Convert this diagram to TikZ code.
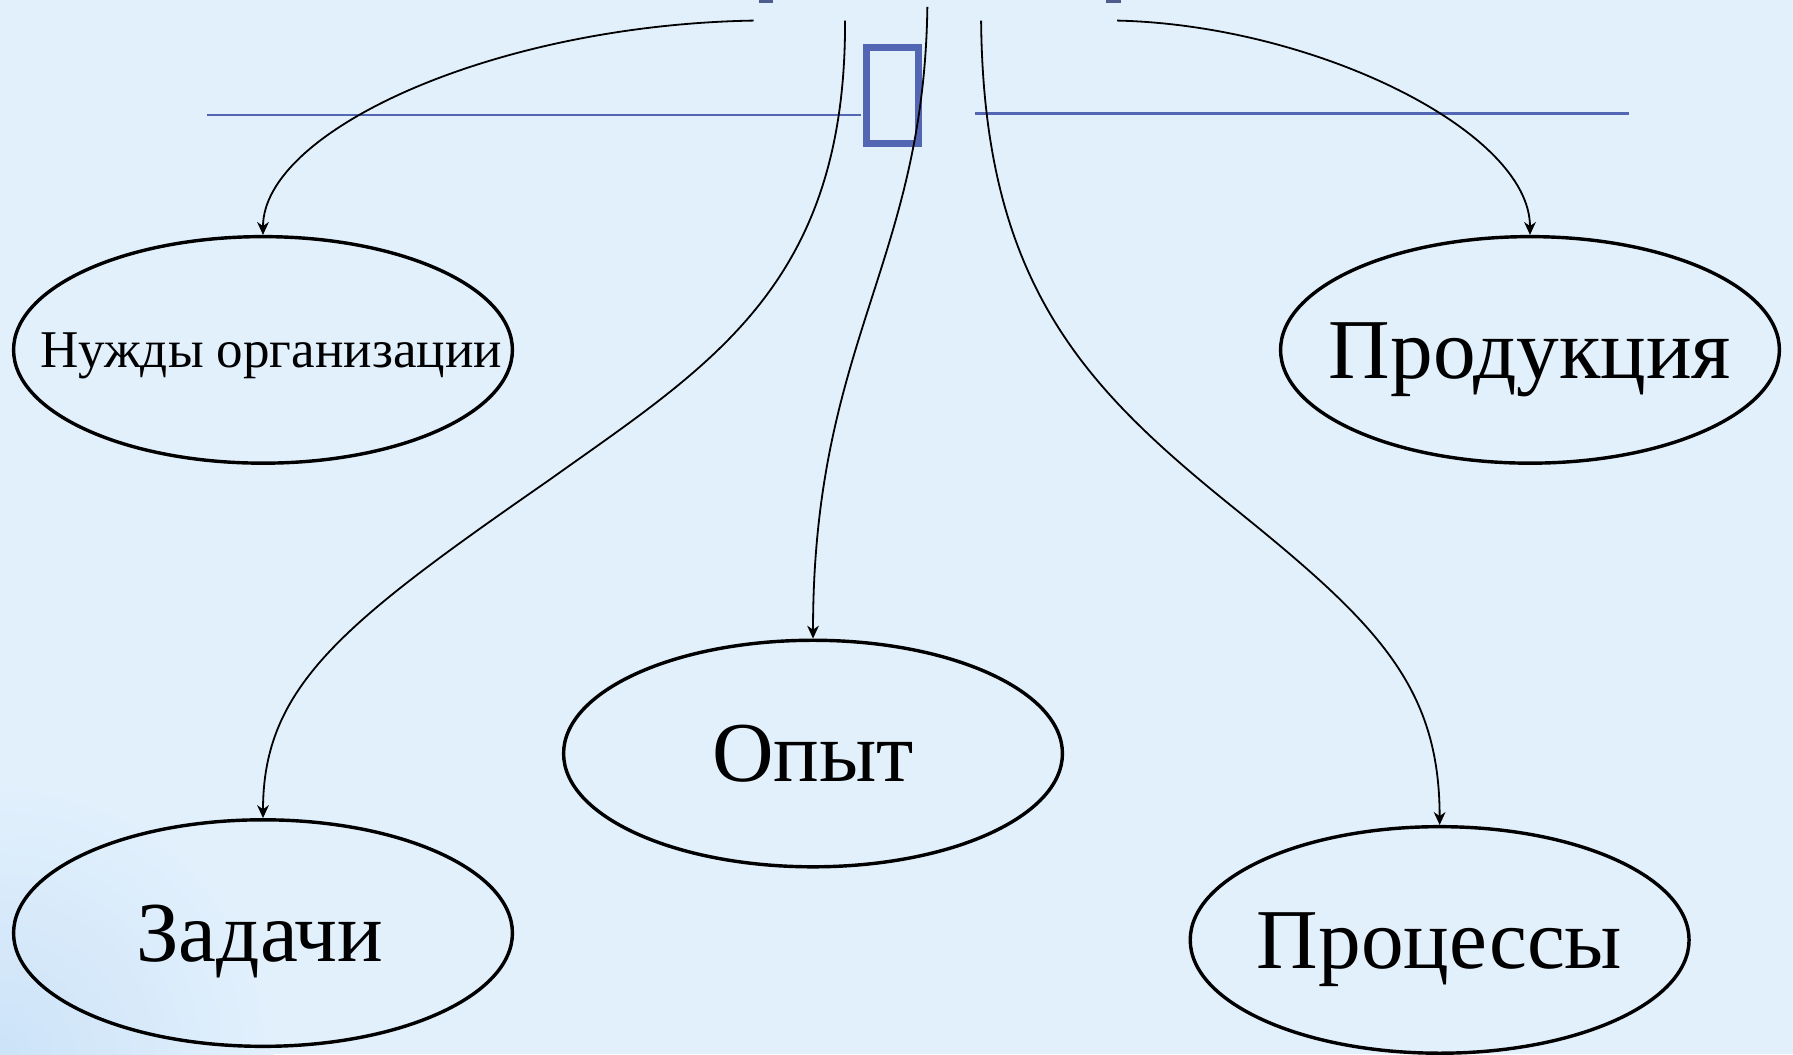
\documentclass[tikz,border=0pt]{standalone}
\usepackage{fontspec}
\setmainfont{Liberation Serif}
\usetikzlibrary{shapes.geometric,arrows.meta}
\definecolor{bgc}{RGB}{226,240,252}
\definecolor{glowc}{RGB}{204,227,248}
\definecolor{rulec}{RGB}{83,102,179}
\definecolor{markc}{RGB}{79,93,142}
\pgfdeclareradialshading{cornerglow}{\pgfpoint{0bp}{0bp}}{color(0bp)=(glowc); color(25bp)=(bgc); color(50bp)=(bgc)}
\begin{document}
\begin{tikzpicture}[x=0.01cm,y=-0.01cm,
  ell/.style={draw=black, line width=0.85pt, shape=ellipse, minimum width=4.36cm, minimum height=1.98cm, inner sep=0pt},
  bigtxt/.style={font=\fontsize{21.2}{24}\selectfont, inner sep=0pt, text height=14pt, text depth=0pt},
  smalltxt/.style={font=\fontsize{13.2}{16}\selectfont, inner sep=0pt, text height=8.7pt, text depth=0pt},
  conn/.style={draw=black, line width=0.45pt, -{Stealth[length=3.2pt,width=2.9pt,inset=1pt]}},
  rulestyle/.style={draw=rulec, line width=0.7pt},
  glyphbox/.style={draw=rulec, line width=1.7pt},
  topmark/.style={fill=markc},
]
% background
\fill[bgc] (0,0) rectangle (1568,922);
\begin{scope}
  \clip (0,0) rectangle (1568,922);
  \shade[shading=cornerglow] (0,922) circle (240);
\end{scope}
\path[use as bounding box] (0,0) rectangle (1568,922);

% cut-off marks at the top
\fill[topmark] (664,0) rectangle (676,2.5);
\fill[topmark] (967,0) rectangle (980,2.5);

% blue rules and missing-glyph box
\draw[rulestyle] (181,100.5) -- (753,100.5);
\draw[rulestyle] (853,99.5) -- (1425,99.5);
\draw[glyphbox] (758,41.5) rectangle (803,125.5);

% ellipses
\node[ell] (n1) at (230,306) {};
\node[ell] (n2) at (1338,306) {};
\node[ell] (n3) at (711,659) {};
\node[ell] (n4) at (230,816) {};
\node[ell] (n5) at (1259,822) {};

\node[smalltxt] (t1) at ([xshift=0.07cm]n1.center) {Нужды организации};
\node[bigtxt] (t2) at (n2.center) {Продукция};
\node[bigtxt] (t3) at (n3.center) {Опыт};
\node[bigtxt] (t4) at ([xshift=-0.03cm]n4.center) {Задачи};
\node[bigtxt] (t5) at (n5.center) {Процессы};

% connector free ends
\coordinate (s1) at (659,18);
\coordinate (s2) at (739,18);
\coordinate (s3) at (811,6);
\coordinate (s4) at (858,18);
\coordinate (s5) at (977,18);

\draw[conn] (s1) .. controls (430,22) and (230,115) .. (n1.north);
\draw[conn] (s2) .. controls (740,250) and (620,320) .. (480,420) .. controls (300,545) and (230,600) .. (n4.north);
\draw[conn] (s3) .. controls (808,230) and (711,300) .. (n3.north);
\draw[conn] (s4) .. controls (860,250) and (950,340) .. (1080,445) .. controls (1204,545) and (1259,600) .. (n5.north);
\draw[conn] (s5) .. controls (1150,22) and (1338,115) .. (n2.north);
\end{tikzpicture}
\end{document}
